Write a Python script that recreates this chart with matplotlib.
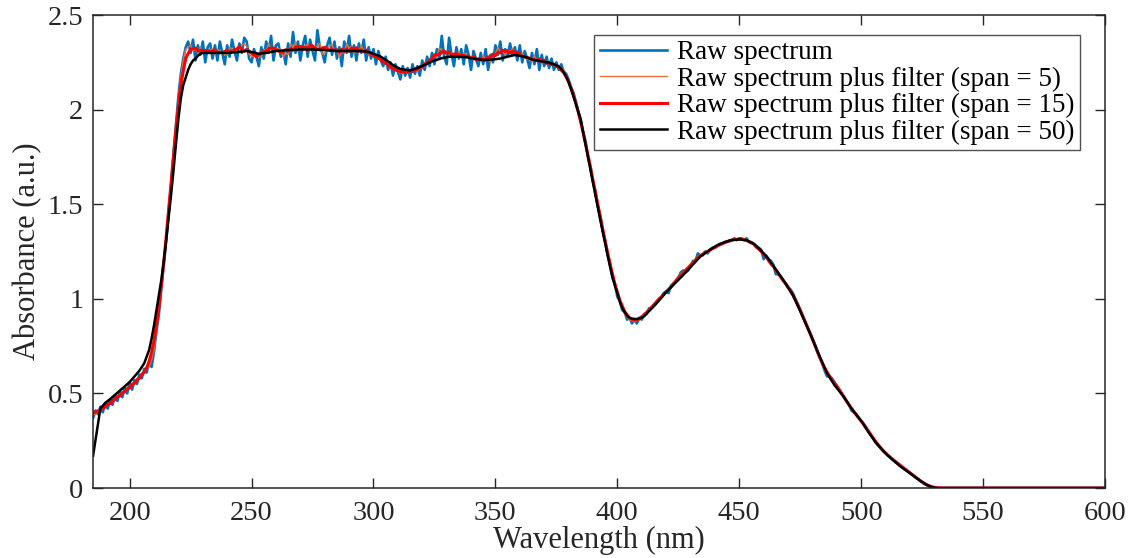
"""
Raw absorbance spectrum and its moving-average smoothed versions
"""

import numpy as np
import matplotlib
matplotlib.use("Agg")
import matplotlib.pyplot as plt

# raw spectrum at 1 nm steps from 185 to 534 nm
raw_abs = [
    0.37, 0.41, 0.39, 0.43, 0.40, 0.45, 0.42, 0.47, 0.44, 0.49,  # 185
    0.46, 0.51, 0.48, 0.53, 0.50, 0.56, 0.52, 0.57, 0.55, 0.60,  # 195
    0.58, 0.63, 0.61, 0.67, 0.64, 0.72, 0.83, 0.92, 1.06, 1.18,  # 205
    1.31, 1.46, 1.60, 1.77, 1.92, 2.07, 2.19, 2.27, 2.33, 2.36,  # 215
    2.30, 2.37, 2.26, 2.34, 2.29, 2.36, 2.25, 2.33, 2.35, 2.27,  # 225
    2.34, 2.26, 2.36, 2.30, 2.24, 2.34, 2.28, 2.37, 2.31, 2.26,  # 235
    2.35, 2.30, 2.38, 2.36, 2.27, 2.25, 2.32, 2.28, 2.23, 2.33,  # 245
    2.27, 2.36, 2.30, 2.39, 2.26, 2.34, 2.35, 2.28, 2.31, 2.24,  # 255
    2.35, 2.28, 2.41, 2.30, 2.36, 2.26, 2.34, 2.39, 2.28, 2.37,  # 265
    2.31, 2.26, 2.42, 2.33, 2.30, 2.25, 2.34, 2.38, 2.29, 2.36,  # 275
    2.27, 2.33, 2.23, 2.36, 2.30, 2.39, 2.28, 2.34, 2.26, 2.35,  # 285
    2.30, 2.37, 2.26, 2.33, 2.27, 2.32, 2.24, 2.31, 2.26, 2.23,  # 295
    2.28, 2.21, 2.25, 2.18, 2.24, 2.20, 2.16, 2.23, 2.18, 2.22,  # 305
    2.17, 2.24, 2.19, 2.23, 2.18, 2.26, 2.21, 2.28, 2.23, 2.30,  # 315
    2.24, 2.32, 2.27, 2.39, 2.28, 2.24, 2.38, 2.29, 2.23, 2.33,  # 325
    2.27, 2.32, 2.24, 2.34, 2.29, 2.21, 2.31, 2.27, 2.23, 2.30,  # 335
    2.24, 2.32, 2.21, 2.29, 2.25, 2.34, 2.29, 2.36, 2.26, 2.32,  # 345
    2.28, 2.35, 2.29, 2.33, 2.26, 2.34, 2.25, 2.31, 2.27, 2.22,  # 355
    2.30, 2.24, 2.32, 2.21, 2.29, 2.23, 2.28, 2.22, 2.27, 2.21,  # 365
    2.25, 2.21, 2.24, 2.20, 2.19, 2.16, 2.12, 2.09, 2.04, 1.99,  # 375
    1.95, 1.88, 1.83, 1.75, 1.70, 1.62, 1.57, 1.49, 1.44, 1.36,  # 385
    1.31, 1.23, 1.19, 1.11, 1.08, 1.01, 0.99, 0.94, 0.93, 0.89,  # 395
    0.90, 0.87, 0.89, 0.87, 0.90, 0.89, 0.92, 0.92, 0.95, 0.95,  # 405
    0.97, 0.98, 1.00, 1.01, 1.03, 1.04, 1.03, 1.07, 1.08, 1.09,  # 415
    1.11, 1.14, 1.15, 1.14, 1.15, 1.17, 1.20, 1.20, 1.24, 1.23,  # 425
    1.23, 1.25, 1.24, 1.26, 1.27, 1.27, 1.28, 1.29, 1.29, 1.30,  # 435
    1.30, 1.31, 1.31, 1.32, 1.31, 1.32, 1.32, 1.31, 1.32, 1.30,  # 445
    1.30, 1.29, 1.28, 1.27, 1.26, 1.21, 1.23, 1.21, 1.20, 1.18,  # 455
    1.13, 1.13, 1.12, 1.10, 1.08, 1.06, 1.05, 1.03, 1.00, 0.97,  # 465
    0.94, 0.91, 0.88, 0.85, 0.82, 0.79, 0.76, 0.72, 0.69, 0.66,  # 475
    0.62, 0.59, 0.59, 0.58, 0.56, 0.54, 0.52, 0.50, 0.48, 0.46,  # 485
    0.44, 0.41, 0.40, 0.39, 0.37, 0.355, 0.34, 0.32, 0.30, 0.28,  # 495
    0.26, 0.24, 0.225, 0.21, 0.195, 0.185, 0.17, 0.16, 0.15, 0.14,  # 505
    0.13, 0.12, 0.11, 0.10, 0.09, 0.08, 0.07, 0.06, 0.05, 0.04,  # 515
    0.03, 0.02, 0.015, 0.008, 0.003, 0.0, 0.0, 0.0, 0.0, 0.0,  # 525
]
raw_wl = list(range(185, 535))
# flat zero tail
tail_wl = [550, 600]
tail_abs = [0.0, 0.0]

# span = 50 curve
black_wl = [185, 188, 190, 192, 196, 200, 204, 206, 208, 209, 210, 211, 212,
            213, 214, 215, 216, 217, 218, 219, 220, 221, 222, 223, 224, 225,
            226, 227, 228, 229, 230, 235, 240, 245, 248, 250, 253, 256, 260,
            265, 270, 275, 280, 285, 290, 295, 298, 300, 303, 306, 308, 311,
            315, 319, 324, 328, 331, 335, 338, 342, 345, 349, 352, 355, 358,
            362, 365, 369, 372, 374, 376, 377, 378, 379, 380, 381, 382, 383,
            384, 385, 389, 393, 397, 398, 399, 400, 401, 402, 403, 404, 405,
            406, 408, 410, 411, 413, 416, 420, 427, 434, 438, 441, 444, 447,
            450, 453, 456, 458, 460, 462, 465, 468, 472, 475, 479, 482, 486,
            489, 493, 496, 500, 503, 506, 510, 513, 516, 520, 524, 527, 529,
            531, 600]
black_abs = [0.17, 0.42, 0.45, 0.47, 0.515, 0.56, 0.62, 0.66, 0.73, 0.79,
             0.86, 0.94, 1.02, 1.10, 1.20, 1.31, 1.43, 1.55, 1.68, 1.82, 1.95,
             2.06, 2.13, 2.17, 2.21, 2.24, 2.26, 2.27, 2.285, 2.295, 2.30,
             2.30, 2.30, 2.305, 2.31, 2.305, 2.295, 2.30, 2.31, 2.315, 2.318,
             2.318, 2.315, 2.31, 2.31, 2.31, 2.305, 2.295, 2.28, 2.255, 2.235,
             2.215, 2.207, 2.225, 2.255, 2.272, 2.28, 2.28, 2.277, 2.268,
             2.262, 2.265, 2.27, 2.28, 2.289, 2.28, 2.265, 2.255, 2.248, 2.24,
             2.228, 2.215, 2.198, 2.175, 2.145, 2.11, 2.07, 2.03, 1.988, 1.945,
             1.68, 1.417, 1.17, 1.115, 1.07, 1.03, 0.985, 0.952, 0.93, 0.912,
             0.90, 0.895, 0.893, 0.90, 0.908, 0.935, 0.975, 1.035, 1.126,
             1.223, 1.26, 1.284, 1.30, 1.311, 1.314, 1.31, 1.29, 1.267, 1.24,
             1.21, 1.155, 1.10, 1.02, 0.935, 0.818, 0.725, 0.606, 0.545, 0.48,
             0.42, 0.355, 0.295, 0.24, 0.183, 0.148, 0.115, 0.078, 0.04, 0.016,
             0.005, 0.0, 0.0]

labels = ["Raw spectrum",
          "Raw spectrum plus filter (span = 5)",
          "Raw spectrum plus filter (span = 15)",
          "Raw spectrum plus filter (span = 50)"]


def smooth(y, span):
    # moving average, window shrinks at the ends
    k = np.ones(span)
    return np.convolve(y, k, "same") / np.convolve(np.ones_like(y), k, "same")


wl = np.array(raw_wl + tail_wl, dtype=float)
ab = np.array(raw_abs + tail_abs)

plt.rcParams["font.family"] = ["Liberation Serif", "DejaVu Serif"]

fig = plt.figure(figsize=(11.32, 5.58), dpi=100)
ax = fig.add_axes([0.0822, 0.1254, 0.894, 0.8476])

# the original data is sampled about twice as finely, so the spans
# in samples are roughly halved here
ax.plot(wl, ab, color="#0072BD", lw=1.9, label=labels[0])
ax.plot(wl, smooth(ab, 3), color="#E8703A", lw=1.0, label=labels[1])
ax.plot(wl, smooth(ab, 7), color="#FF0000", lw=2.2, label=labels[2])
ax.plot(black_wl, black_abs, color="black", lw=1.8, label=labels[3])

ax.set_xlim(185, 600)
ax.set_ylim(0, 2.5)
ax.set_xticks(np.arange(200, 601, 50))
ax.set_yticks([0, 0.5, 1, 1.5, 2, 2.5])
ax.set_yticklabels(["0", "0.5", "1", "1.5", "2", "2.5"])
ax.tick_params(direction="in", length=7, width=1, top=True, right=True,
               labelsize=20.5, colors="#262626", pad=7)
ax.tick_params(axis="x", pad=9)
for s in ax.spines.values():
    s.set_color("#262626")
    s.set_linewidth(1.1)

ax.set_xlabel("Wavelength (nm)", fontsize=22, color="#262626", labelpad=0)
ax.set_ylabel("Absorbance (a.u.)", fontsize=22, color="#262626", labelpad=4)

leg = ax.legend(loc="upper right", bbox_to_anchor=(0.975, 0.958),
                borderaxespad=0, fontsize=19.5, frameon=True, fancybox=False,
                edgecolor="#262626", handlelength=2.5, handletextpad=0.35,
                labelspacing=0.05, borderpad=0.2)
leg.get_frame().set_linewidth(1.0)

fig.savefig("out.png", dpi=100)
